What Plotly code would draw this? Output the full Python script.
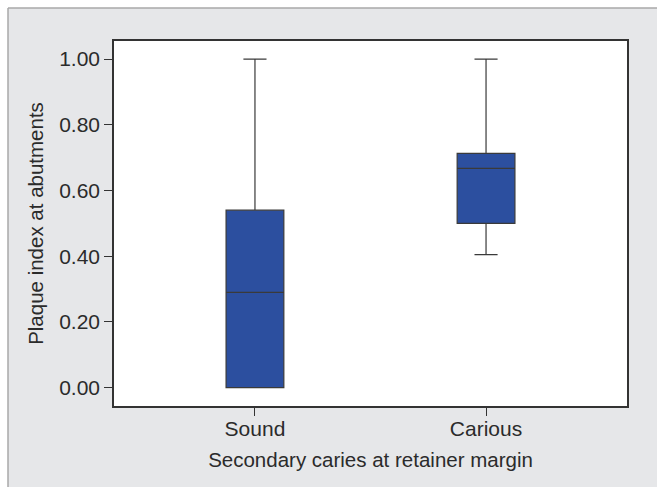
import plotly.graph_objects as go

categories = ["Sound", "Carious"]
lower_whisker = [0.0, 0.405]
q1_values = [0.0, 0.50]
median_values = [0.29, 0.667]
q3_values = [0.54, 0.713]
upper_whisker = [1.0, 1.0]
y_ticks = [0.0, 0.2, 0.4, 0.6, 0.8, 1.0]

FONT = "Liberation Sans, Arial, sans-serif"
TXT = "#2b2b2b"
GRAY = "#e6e7e9"

fig = go.Figure()
fig.add_trace(go.Box(
    x=categories,
    q1=q1_values,
    median=median_values,
    q3=q3_values,
    lowerfence=lower_whisker,
    upperfence=upper_whisker,
    boxpoints=False,
    fillcolor="#2c4f9f",
    line=dict(color="#3a3a3a", width=1.2),
    width=0.25,
    whiskerwidth=0.4,
    showlegend=False,
    hoverinfo="skip",
))

W, H = 660, 492
L, R, T, B = 114, 33, 41, 86
pw, ph = W - L - R, H - T - B

def px(x):
    return (x - L) / pw

def py(y):
    return (H - B - y) / ph

# white strips at top and left, gray panel border lines
fig.add_shape(type="rect", xref="paper", yref="paper", layer="below",
              x0=px(-10), x1=px(W + 10), y0=py(-10), y1=py(8),
              fillcolor="white", line=dict(width=0))
fig.add_shape(type="rect", xref="paper", yref="paper", layer="below",
              x0=px(-10), x1=px(8), y0=py(-10), y1=py(H + 10),
              fillcolor="white", line=dict(width=0))
fig.add_shape(type="line", xref="paper", yref="paper", layer="below",
              x0=px(8), x1=px(W + 10), y0=py(8), y1=py(8),
              line=dict(color="#a9a9a9", width=1.5))
fig.add_shape(type="line", xref="paper", yref="paper", layer="below",
              x0=px(8), x1=px(8), y0=py(8), y1=py(H + 10),
              line=dict(color="#a9a9a9", width=1.5))

fig.update_layout(
    width=W, height=H,
    margin=dict(l=L, r=R, t=T, b=B),
    paper_bgcolor=GRAY,
    plot_bgcolor="white",
    font=dict(family=FONT, size=21, color=TXT),
    xaxis=dict(
        type="category",
        range=[-0.61, 1.61],
        showline=True, mirror=True, linecolor="#333333", linewidth=1.5,
        ticks="outside", ticklen=8, tickcolor="#333333", tickwidth=1,
        ticklabelstandoff=-5,
        showgrid=False, zeroline=False,
        tickfont=dict(size=21, color=TXT),
        title=dict(text="Secondary caries at retainer margin", font=dict(size=20.5, color=TXT), standoff=14),
    ),
    yaxis=dict(
        range=[-0.056, 1.055],
        tickvals=y_ticks, tickformat=".2f",
        showline=True, mirror=True, linecolor="#333333", linewidth=1.5,
        ticks="outside", ticklen=8, tickcolor="#333333", tickwidth=1,
        showgrid=False, zeroline=False,
        tickfont=dict(size=21, color=TXT),
        title=dict(text="Plaque index at abutments", font=dict(size=20.5, color=TXT), standoff=10),
    ),
)

fig.write_html("out.html", config={"displayModeBar": False},
               post_script="document.body.style.margin='0';document.body.style.overflow='hidden';")
